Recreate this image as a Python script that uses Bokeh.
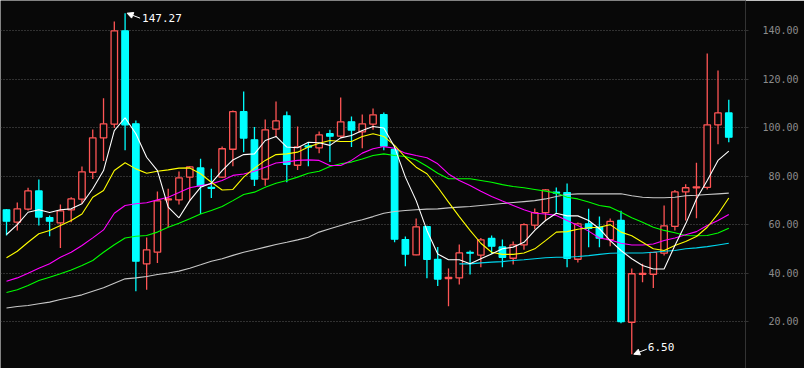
import math
from bokeh.plotting import figure
from bokeh.models import (Range1d, FixedTicker, CustomJSTickFormatter, ColumnDataSource,
                          Label, Arrow, NormalHead)
from bokeh.embed import file_html
from bokeh.resources import INLINE

# ---------------- data ----------------
opens = [66.1, 61.0, 66.4, 73.9, 62.9, 60.7, 66.1, 70.5, 81.6, 95.8,
         101.5, 140.0, 101.6, 43.8, 48.6, 70.2, 70.2, 79.6, 83.4, 75.4,
         79.6, 91.1, 106.6, 95.0, 78.8, 99.4, 104.9, 84.5, 92.5, 91.7,
         97.5, 96.5, 102.4, 98.3, 101.5, 105.4, 91.0, 53.8, 47.5, 59.2,
         45.6, 37.7, 38.0, 48.5, 47.4, 54.3, 50.8, 46.1, 51.6, 59.8,
         64.9, 73.4, 73.2, 45.7, 60.3, 58.9, 53.8, 61.7, 19.7, 39.5,
         39.5, 48.2, 59.3, 73.5, 75.2, 75.4, 101.2, 106.1]
highs = [66.4, 69.1, 75.2, 78.6, 63.8, 68.3, 71.3, 84.0, 99.3, 112.1,
         143.8, 147.27, 103.0, 54.7, 73.7, 74.8, 81.9, 84.1, 87.2, 83.0,
         92.2, 107.1, 114.9, 100.3, 103.4, 110.8, 106.7, 100.5, 94.0, 98.4,
         99.1, 112.5, 104.6, 105.4, 107.9, 106.3, 92.0, 55.1, 62.5, 59.5,
         50.8, 41.9, 51.8, 49.3, 54.5, 55.5, 53.8, 53.0, 60.6, 66.6,
         74.6, 75.3, 77.0, 60.9, 66.5, 63.3, 62.5, 65.7, 41.9, 43.8,
         48.7, 67.9, 74.3, 76.7, 85.5, 130.6, 123.6, 111.5]
lows = [55.5, 57.6, 65.8, 59.6, 55.2, 50.3, 61.0, 68.6, 78.8, 86.2,
        99.9, 90.7, 32.5, 33.1, 44.1, 58.9, 68.3, 69.9, 64.4, 71.0,
        79.3, 84.1, 89.9, 75.9, 76.0, 96.1, 77.5, 82.5, 84.1, 89.5,
        85.8, 95.8, 92.0, 91.5, 99.1, 90.7, 52.7, 42.8, 47.3, 37.9,
        34.7, 26.3, 35.3, 39.4, 42.4, 47.9, 42.4, 43.5, 49.6, 58.1,
        61.7, 64.9, 42.4, 44.4, 50.7, 50.7, 51.1, 19.3, 6.50, 36.2,
        33.8, 47.2, 57.6, 61.7, 62.6, 74.5, 93.2, 94.0]
closes = [61.4, 66.5, 73.9, 63.1, 61.4, 65.7, 70.6, 81.8, 95.8, 101.6,
          140.0, 101.2, 44.9, 49.6, 69.8, 70.6, 79.3, 83.8, 76.0, 75.0,
          91.3, 106.6, 95.7, 78.8, 99.1, 102.8, 84.9, 92.1, 92.0, 97.0,
          96.5, 102.4, 99.0, 101.6, 105.3, 92.4, 54.0, 47.8, 59.1, 45.7,
          37.5, 38.2, 48.3, 48.2, 53.7, 51.1, 46.5, 51.6, 60.0, 64.9,
          74.3, 73.0, 46.1, 60.3, 58.5, 54.4, 61.3, 20.0, 39.7, 39.9,
          48.5, 59.5, 73.5, 75.2, 75.6, 101.2, 106.1, 96.1]

ma5 = [55.9, 60.0, 65.1, 66.1, 65.0, 66.1, 66.5, 68.6, 74.8, 82.3,
       98.8, 104.1, 97.5, 87.8, 82.3, 67.2, 62.8, 69.9, 75.4, 77.1,
       82.3, 86.7, 88.9, 89.2, 94.7, 96.4, 92.0, 91.7, 94.0, 93.8,
       92.7, 95.8, 96.8, 98.8, 100.5, 99.9, 92.0, 79.6, 69.9, 57.6,
       47.9, 45.5, 45.5, 43.8, 45.9, 47.9, 50.0, 50.7, 52.7, 57.6,
       61.7, 64.7, 63.6, 63.6, 61.7, 58.3, 53.4, 49.3, 45.9, 43.1,
       41.7, 41.7, 51.4, 60.3, 70.6, 78.2, 86.5, 90.3]
ma10 = [46.3, 49.0, 52.7, 56.2, 57.6, 59.6, 61.7, 64.4, 71.3, 74.1,
        82.3, 85.5, 83.0, 81.2, 82.0, 82.6, 83.3, 83.4, 81.0, 77.5,
        74.3, 74.5, 79.6, 83.3, 86.5, 88.9, 89.2, 89.9, 92.0, 93.6,
        94.7, 94.3, 94.3, 96.4, 97.5, 96.4, 92.7, 87.8, 83.7, 81.0,
        75.4, 69.3, 63.3, 57.6, 52.3, 48.6, 47.7, 47.7, 48.3, 50.0,
        53.4, 56.9, 57.1, 58.1, 58.7, 58.9, 60.0, 56.9, 55.4, 52.7,
        50.0, 49.3, 51.4, 53.0, 55.1, 58.9, 64.4, 71.0]
ma20 = [36.6, 38.0, 39.9, 42.0, 43.8, 46.5, 48.6, 51.4, 54.5, 57.8,
        64.7, 67.9, 68.6, 69.0, 70.2, 71.3, 73.2, 75.2, 76.1, 76.8,
        78.2, 80.3, 80.9, 82.0, 83.7, 85.4, 85.9, 86.5, 86.7, 86.5,
        84.4, 84.4, 86.5, 89.5, 91.3, 92.2, 91.5, 89.5, 88.5, 87.6,
        85.1, 80.9, 78.2, 76.1, 73.8, 71.6, 69.7, 67.9, 66.1, 64.7,
        64.4, 63.8, 61.7, 59.6, 57.3, 54.5, 53.7, 52.3, 51.6, 51.6,
        52.0, 53.4, 54.5, 55.8, 57.1, 59.6, 61.7, 64.2]
ma30 = [32.0, 33.1, 34.9, 36.9, 38.3, 39.7, 41.3, 43.1, 45.2, 48.6,
        51.7, 54.5, 55.2, 55.5, 56.9, 58.9, 60.6, 62.4, 64.4, 65.8,
        67.5, 69.9, 72.4, 73.4, 75.4, 77.1, 78.2, 79.6, 81.2, 82.0,
        84.0, 85.1, 85.8, 87.1, 88.5, 89.2, 88.5, 88.1, 86.7, 84.1,
        81.2, 78.9, 78.9, 78.9, 78.2, 77.5, 76.5, 75.7, 75.2, 74.5,
        73.8, 73.0, 71.3, 70.6, 69.3, 67.9, 67.2, 65.1, 62.8, 61.0,
        58.9, 57.6, 56.6, 55.5, 55.4, 55.5, 56.5, 58.5]
ma60 = [25.6, 26.2, 26.6, 27.3, 28.0, 29.1, 30.0, 31.0, 32.5, 33.9,
        35.8, 37.6, 38.0, 38.6, 39.4, 40.0, 40.8, 42.0, 43.4, 44.9,
        45.9, 47.3, 48.6, 49.6, 50.7, 51.8, 52.7, 53.7, 54.8, 56.9,
        58.3, 59.6, 61.0, 62.0, 63.3, 64.7, 65.4, 65.8, 66.1, 66.4,
        66.5, 66.9, 67.2, 67.5, 67.9, 68.3, 68.7, 69.1, 69.5, 69.9,
        70.6, 71.6, 72.4, 72.7, 72.7, 72.7, 72.7, 72.7, 71.9, 71.3,
        71.1, 71.1, 71.3, 71.9, 72.1, 72.4, 72.7, 73.0]
ma_long = [math.nan] * 42 + [
    43.8, 43.8, 44.2, 44.5, 44.7, 45.2, 45.5, 45.9, 46.3, 46.5,
    46.5, 46.8, 47.2, 47.7, 48.2, 48.3, 48.3, 48.3, 48.6, 49.0,
    49.3, 50.0, 50.4, 50.9, 51.6, 52.3]

y_ticks = [20, 40, 60, 80, 100, 120, 140]
max_label = "147.27"
min_label = "6.50"

# ---------------- styling ----------------
BG = "#080808"
UP = "#FF5555"
DOWN = "#00FFFF"
PX_X = 10.78    # pixels per bar
PX_Y = 2.4225   # pixels per price unit

n = len(closes)
idx = list(range(n))
is_up = [c >= o for o, c in zip(opens, closes)]
src = ColumnDataSource(dict(
    x=idx, high=highs, low=lows,
    top=[max(o, c) for o, c in zip(opens, closes)],
    bottom=[min(o, c) for o, c in zip(opens, closes)],
    color=[UP if u else DOWN for u in is_up],
    fill=[BG if u else DOWN for u in is_up],
))

p = figure(width=804, height=368, output_backend="svg", toolbar_location=None,
           x_axis_location=None, y_axis_location="right",
           x_range=Range1d(-0.557, 68.55), y_range=Range1d(0.6, 152.5),
           background_fill_color=BG, border_fill_color=BG,
           min_border=0, min_border_right=59)
p.outline_line_color = None
p.xgrid.visible = False
p.ygrid.ticker = FixedTicker(ticks=y_ticks)
p.ygrid.grid_line_color = "#5a5a5a"
p.ygrid.grid_line_dash = "1 2"

ax = p.yaxis[0]
ax.ticker = FixedTicker(ticks=y_ticks)
ax.formatter = CustomJSTickFormatter(code="return tick.toFixed(2).padStart(6, '\\u2007');")
ax.axis_line_color = "#333333"
ax.major_tick_line_color = "#333333"
ax.major_tick_in = 0
ax.major_tick_out = 3
ax.minor_tick_line_color = None
ax.major_label_text_color = "#8c8c8c"
ax.major_label_text_font = "DejaVu Sans Mono"
ax.major_label_text_font_size = "10px"
ax.major_label_standoff = 14

p.segment(x0="x", y0="high", x1="x", y1="low", line_color="color", line_width=1.3, source=src)
p.vbar(x="x", width=0.6, top="top", bottom="bottom", fill_color="fill",
       line_color="color", line_width=1.3, source=src)

for series, col in [(ma60, "#C8C8C8"), (ma_long, "#00D8F0"), (ma30, "#00FF00"),
                    (ma20, "#FF00FF"), (ma10, "#FFFF00"), (ma5, "#FFFFFF")]:
    p.line(idx, series, line_color=col, line_width=1.1)

# max / min annotations
imax = highs.index(max(highs))
imin = lows.index(min(lows))
p.add_layout(Arrow(end=NormalHead(size=6, fill_color="white", line_color="white"),
                   x_start=imax + 15 / PX_X, y_start=highs[imax] - 5 / PX_Y,
                   x_end=imax + 2 / PX_X, y_end=highs[imax],
                   line_color="white", line_width=1))
p.add_layout(Label(x=imax, y=highs[imax], x_offset=17, y_offset=-5, text=max_label,
                   text_color="white", text_font="DejaVu Sans Mono",
                   text_font_size="11px", text_baseline="middle"))
p.add_layout(Arrow(end=NormalHead(size=6, fill_color="white", line_color="white"),
                   x_start=imin + 15 / PX_X, y_start=lows[imin] + 5 / PX_Y,
                   x_end=imin + 2 / PX_X, y_end=lows[imin],
                   line_color="white", line_width=1))
p.add_layout(Label(x=imin, y=lows[imin], x_offset=16, y_offset=7, text=min_label,
                   text_color="white", text_font="DejaVu Sans Mono",
                   text_font_size="11px", text_baseline="middle"))

open("out.html", "w").write(file_html(p, INLINE))
